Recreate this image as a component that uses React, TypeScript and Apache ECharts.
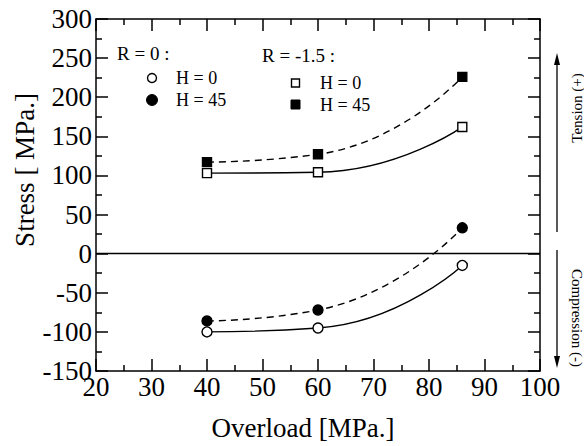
import React, { useEffect, useRef } from "react";
import * as echarts from "echarts";

const overload = [40, 60, 86];
const r0H0 = [-100, -95, -15];
const r0H45 = [-86, -72, 33];
const r15H0 = [103, 104, 162];
const r15H45 = [117, 127, 226];

const xTicks = { min: 20, max: 100, interval: 10 };
const yTicks = { min: -150, max: 300, interval: 50 };

const FONT = "Liberation Serif";

export default function App() {
  const ref = useRef<HTMLDivElement>(null);
  useEffect(() => {
    if (!ref.current) return;
    const chart = echarts.init(ref.current, null, { renderer: "svg" });
    const axisLine = { show: true, onZero: false, lineStyle: { color: "#000", width: 1.5 } };
    const axisTick = { show: true, inside: true, length: 12, lineStyle: { color: "#000", width: 1.5 } };
    const minorTick = { show: true, splitNumber: 2, length: 6, lineStyle: { color: "#000", width: 1.5 } };
    const mk = (vals: number[]) => vals.map((v, i) => [overload[i], v]);
    const lineSeries = (
      name: string,
      vals: number[],
      symbol: string,
      size: number,
      filled: boolean,
      dashed: boolean,
      extra: any = {}
    ) => ({
      name,
      type: "line",
      data: mk(vals),
      smooth: 0.55,
      symbol,
      symbolSize: size,
      showSymbol: true,
      lineStyle: { color: "#000", width: 1.4, type: dashed ? [7, 5] : "solid" },
      itemStyle: { color: filled ? "#000" : "#fff", borderColor: "#000", borderWidth: 1.4 },
      z: 3,
      ...extra,
    });
    const txt = (text: string, x: number, y: number, size: number, extra: any = {}) => ({
      type: "text",
      x,
      y,
      style: { text, x: 0, y: 0, fill: "#000", fontSize: size, fontFamily: FONT, align: "left", verticalAlign: "middle" },
      ...extra,
    });
    const labelStyle = { color: "#000", fontSize: 27, fontFamily: FONT, showMinLabel: true, showMaxLabel: true };
    chart.setOption({
      animation: false,
      backgroundColor: "#fff",
      textStyle: { fontFamily: FONT },
      grid: { left: 96, right: 44, top: 19, bottom: 75 },
      xAxis: [
        {
          type: "value",
          position: "bottom",
          ...xTicks,
          axisLine,
          axisTick,
          minorTick,
          splitLine: { show: false },
          axisLabel: { ...labelStyle, margin: 2 },
        },
        {
          type: "value",
          position: "top",
          ...xTicks,
          axisLine,
          axisTick,
          minorTick,
          splitLine: { show: false },
          axisLabel: { show: false },
        },
      ],
      yAxis: [
        {
          type: "value",
          position: "left",
          ...yTicks,
          axisLine,
          axisTick,
          minorTick,
          splitLine: { show: false },
          axisLabel: { ...labelStyle, margin: 4 },
        },
        {
          type: "value",
          position: "right",
          ...yTicks,
          axisLine,
          axisTick,
          minorTick,
          splitLine: { show: false },
          axisLabel: { show: false },
        },
      ],
      series: [
        lineSeries("R=0 H=0", r0H0, "circle", 10, false, false, {
          markLine: {
            silent: true,
            symbol: "none",
            label: { show: false },
            lineStyle: { color: "#000", width: 1.4, type: "solid" },
            data: [{ yAxis: 0 }],
          },
        }),
        lineSeries("R=0 H=45", r0H45, "circle", 10, true, true),
        lineSeries("R=-1.5 H=0", r15H0, "rect", 9, false, false),
        lineSeries("R=-1.5 H=45", r15H45, "rect", 9, true, true),
      ],
      graphic: [
        txt("R = 0 :", 117, 53, 19),
        { type: "circle", shape: { cx: 152, cy: 78, r: 4.5 }, style: { fill: "#fff", stroke: "#000", lineWidth: 1.4 } },
        { type: "circle", shape: { cx: 152, cy: 100, r: 5.5 }, style: { fill: "#000", stroke: "#000", lineWidth: 1 } },
        txt("H = 0", 176, 78, 18),
        txt("H = 45", 176, 100, 18),
        txt("R = -1.5 :", 262, 55, 19),
        { type: "rect", shape: { x: 291.5, y: 79, width: 8, height: 8 }, style: { fill: "#fff", stroke: "#000", lineWidth: 1.4 } },
        { type: "rect", shape: { x: 291, y: 100, width: 9, height: 9 }, style: { fill: "#000", stroke: "#000", lineWidth: 1 } },
        txt("H = 0", 320, 83, 18),
        txt("H = 45", 320, 105, 18),
        {
          type: "text",
          x: 25,
          y: 170,
          rotation: Math.PI / 2,
          style: { text: "Stress [ MPa.]", x: 0, y: 0, fill: "#000", fontSize: 27, fontFamily: FONT, align: "center", verticalAlign: "middle" },
        },
        {
          type: "text",
          x: 303,
          y: 428,
          style: { text: "Overload [MPa.]", x: 0, y: 0, fill: "#000", fontSize: 27, fontFamily: FONT, align: "center", verticalAlign: "middle" },
        },
        { type: "line", shape: { x1: 557, y1: 232, x2: 557, y2: 62 }, style: { stroke: "#000", lineWidth: 1.3 } },
        { type: "polygon", shape: { points: [[557, 53], [554, 65], [560, 65]] }, style: { fill: "#000" } },
        { type: "line", shape: { x1: 557, y1: 250, x2: 557, y2: 359 }, style: { stroke: "#000", lineWidth: 1.3 } },
        { type: "polygon", shape: { points: [[557, 368], [554, 356], [560, 356]] }, style: { fill: "#000" } },
        {
          type: "text",
          x: 577,
          y: 108,
          rotation: Math.PI / 2,
          style: { text: "Tension (+)", x: 0, y: 0, fill: "#000", fontSize: 15, fontFamily: FONT, align: "center", verticalAlign: "middle" },
        },
        {
          type: "text",
          x: 577,
          y: 318,
          rotation: -Math.PI / 2,
          style: { text: "Compression (-)", x: 0, y: 0, fill: "#000", fontSize: 15, fontFamily: FONT, align: "center", verticalAlign: "middle" },
        },
      ],
    });
    return () => chart.dispose();
  }, []);
  return <div ref={ref} style={{ width: 584, height: 446, position: "absolute", left: 0, top: 0 }} />;
}
